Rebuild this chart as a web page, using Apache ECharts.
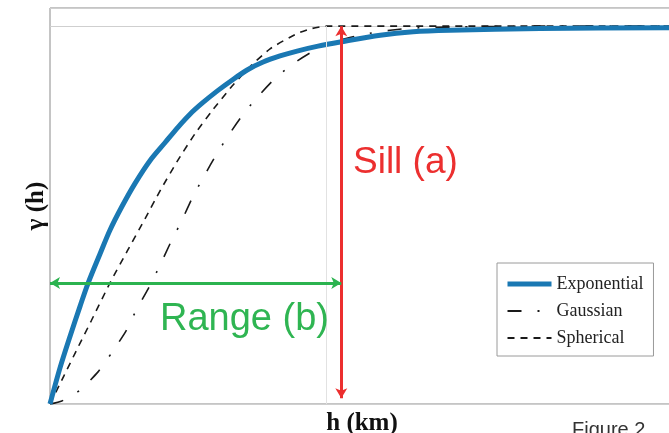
<!DOCTYPE html>
<html>
<head>
<meta charset="utf-8">
<script src="https://cdn.jsdelivr.net/npm/echarts@6/dist/echarts.min.js"></script>
<style>html,body{margin:0;padding:0;background:#fff}#c{width:669px;height:433px}</style>
</head>
<body>
<div id="c"></div>
<script>
// Lag distance h (km, arbitrary units; range b = 10) and semivariance gamma (sill = 1)
const expH = [0, 0.36, 0.73, 1.09, 1.38, 1.81, 2.17, 2.6, 3.08, 3.62, 4.17, 4.64, 5.07, 5.51, 6.05, 6.59, 7.14, 7.72, 8.33, 8.95, 9.71, 10.51, 11.96, 13.15, 14.49, 17.75, 22.6];
const expG = [0, 0.095, 0.18, 0.259, 0.32, 0.397, 0.46, 0.522, 0.584, 0.644, 0.692, 0.733, 0.767, 0.796, 0.828, 0.857, 0.884, 0.905, 0.921, 0.934, 0.947, 0.958, 0.976, 0.985, 0.989, 0.994, 0.996];

const gauH = [0, 0.43, 1.09, 1.74, 2.24, 2.75, 3.14, 3.55, 3.99, 4.38, 4.77, 5.15, 5.58, 6.03, 6.52, 7.03, 7.61, 8.21, 8.94, 9.64, 10.51, 11.41, 12.32, 13.15, 14.86, 17.75, 22.6];
const gauG = [0, 0.008, 0.037, 0.085, 0.136, 0.193, 0.251, 0.304, 0.368, 0.429, 0.485, 0.545, 0.603, 0.661, 0.717, 0.77, 0.82, 0.866, 0.907, 0.938, 0.963, 0.979, 0.989, 0.995, 0.998, 1.0, 1.0];

const sphH = [0, 0.5, 1.0, 1.5, 2.17, 2.8, 3.44, 4.0, 4.64, 5.25, 5.86, 6.58, 7.25, 7.97, 8.94, 9.5, 10, 22.6];
const sphG = [0, 0.074, 0.148, 0.221, 0.32, 0.405, 0.49, 0.566, 0.646, 0.715, 0.775, 0.84, 0.893, 0.94, 0.98, 0.994, 1.0, 1.0];

const seriesNames = ['Exponential', 'Gaussian', 'Spherical'];
const sill = 1;
const rangeB = 10;
const arrowX = 10.55;
const arrowBottom = 0.015;
const rangeArrowY = 0.32;

const zip = (a, b) => a.map((v, i) => [v, b[i]]);

const chart = echarts.init(document.getElementById('c'), null, {renderer: 'canvas'});
chart.setOption({
  animation: false,
  backgroundColor: '#fff',
  grid: {left: 50, top: 8, right: -5, bottom: 29, show: true, borderColor: '#8a8a8a', borderWidth: 1,
         containLabel: false, outerBoundsMode: 'none'},
  xAxis: {
    type: 'value', min: 0, max: 22.6,
    axisLine: {show: false}, axisTick: {show: false}, axisLabel: {show: false}, splitLine: {show: false},
    name: 'h (km)', nameLocation: 'middle', nameGap: 7,
    nameTextStyle: {fontFamily: 'Liberation Serif', fontWeight: 'bold', fontSize: 25, color: '#111', verticalAlign: 'top'}
  },
  yAxis: {
    type: 'value', min: 0, max: 1.048, interval: 1,
    axisLine: {show: false}, axisTick: {show: false}, axisLabel: {show: false},
    splitLine: {show: true, lineStyle: {color: '#cfcfcf', width: 1}},
    name: 'γ (h)', nameLocation: 'middle', nameGap: 1, nameRotate: 90,
    nameTextStyle: {fontFamily: 'Liberation Serif', fontWeight: 'bold', fontSize: 25, color: '#111'}
  },
  legend: {
    data: [
      {name: seriesNames[0], lineStyle: {width: 5}},
      {name: seriesNames[1]},
      {name: seriesNames[2]}
    ],
    orient: 'vertical', left: 497, top: 263,
    padding: [12, 10, 9, 8], itemGap: 9, itemWidth: 44, itemHeight: 14,
    borderColor: '#9a9a9a', borderWidth: 1, backgroundColor: '#fff',
    itemStyle: {opacity: 0},
    textStyle: {fontFamily: 'Liberation Serif', fontSize: 18, color: '#222', lineHeight: 18}
  },
  series: [
    {
      name: 'Spherical', type: 'line', data: zip(sphH, sphG), symbol: 'none', smooth: 0.2,
      lineStyle: {color: '#1a1a1a', width: 1.6, type: [7, 6]}, itemStyle: {color: '#1a1a1a'}, z: 3
    },
    {
      name: 'Gaussian', type: 'line', data: zip(gauH, gauG), symbol: 'none', smooth: 0.2,
      lineStyle: {color: '#1a1a1a', width: 1.6, type: [14, 16, 2, 16]}, itemStyle: {color: '#1a1a1a'}, z: 3
    },
    {
      name: 'Exponential', type: 'line', data: zip(expH, expG), symbol: 'none', smooth: 0.3,
      lineStyle: {color: '#1a78b3', width: 5}, itemStyle: {color: '#1a78b3'}, z: 4,
      markLine: {
        silent: true, animation: false, label: {show: false}, symbol: ['none', 'none'],
        lineStyle: {color: '#e2e2e2', width: 1, type: 'solid'},
        data: [[{coord: [rangeB, 0]}, {coord: [rangeB, sill]}]]
      }
    },
    {
      name: 'annot', type: 'line', data: [], symbol: 'none', z: 6,
      markLine: {
        silent: true, animation: false, label: {show: false}, symbol: ['arrow', 'arrow'], symbolSize: [9, 10],
        data: [
          [{coord: [arrowX, sill], lineStyle: {color: '#ec2f2f', width: 3, type: 'solid'}, itemStyle: {color: '#ec2f2f'}},
           {coord: [arrowX, arrowBottom]}],
          [{coord: [0, rangeArrowY], lineStyle: {color: '#2bb34f', width: 3, type: 'solid'}, itemStyle: {color: '#2bb34f'}},
           {coord: [arrowX, rangeArrowY]}]
        ]
      }
    }
  ],
  graphic: [
    {type: 'text', left: 353, top: 144, z: 10, style: {text: 'Sill (a)', fontFamily: 'Liberation Sans', fontSize: 37, fill: '#ec2f2f'}},
    {type: 'text', left: 160, top: 301, z: 10, style: {text: 'Range (b)', fontFamily: 'Liberation Sans', fontSize: 38, fill: '#2fb552'}},
    {type: 'text', left: 572, top: 420, z: 10, style: {text: 'Figure 2', fontFamily: 'Liberation Sans', fontSize: 20, fill: '#333'}}
  ]
});
</script>
</body>
</html>
